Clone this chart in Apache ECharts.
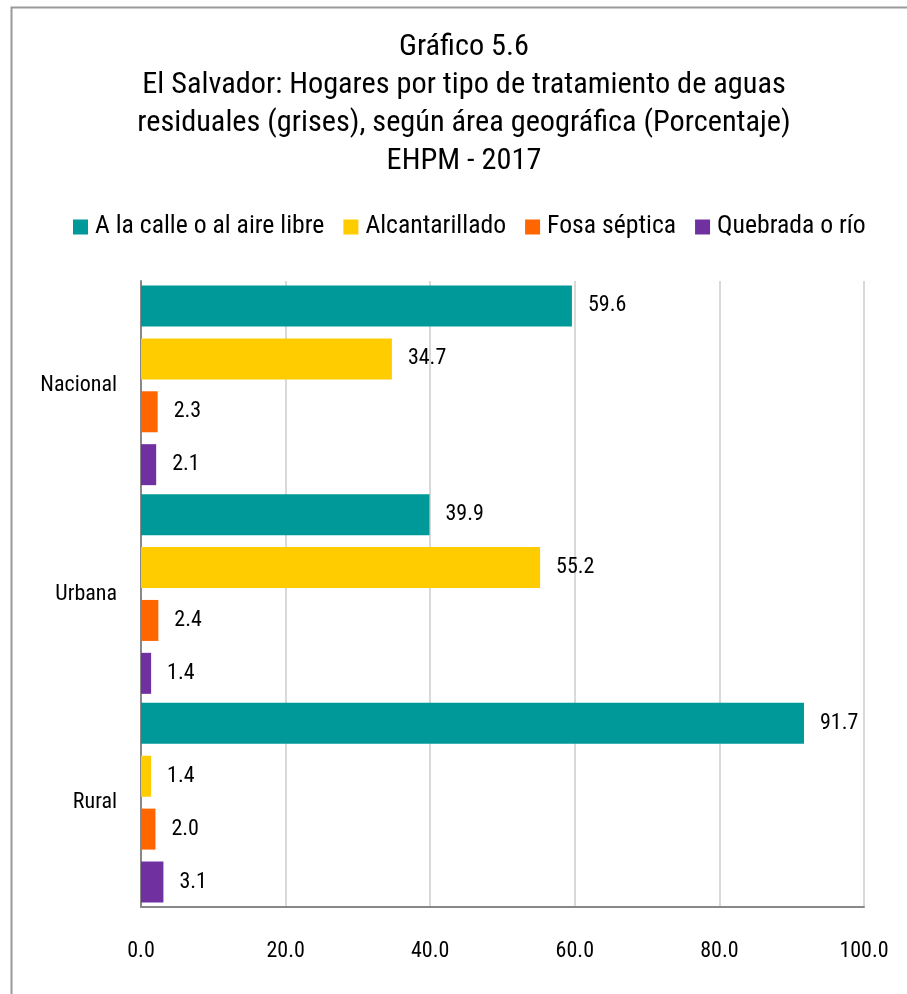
<!DOCTYPE html>
<html>
<head>
<meta charset="utf-8">
<script src="https://cdn.jsdelivr.net/npm/echarts@6/dist/echarts.min.js"></script>
<style>
  html, body { margin: 0; padding: 0; background: #ffffff; }
  #chart { width: 907px; height: 994px; }
</style>
</head>
<body>
<div id="chart"></div>
<script>
// Hogares por tipo de tratamiento de aguas residuales (grises), EHPM 2017
const categories = ['Nacional', 'Urbana', 'Rural'];
const seriesNames = ['A la calle o al aire libre', 'Alcantarillado', 'Fosa séptica', 'Quebrada o río'];
const calleAireLibre = [59.6, 39.9, 91.7];
const alcantarillado = [34.7, 55.2, 1.4];
const fosaSeptica = [2.3, 2.4, 2.0];
const quebradaRio = [2.1, 1.4, 3.1];
const xTicks = [0, 20, 40, 60, 80, 100];
const colors = ['#009999', '#FFCC00', '#FF6600', '#7030A0'];

const FONT = '"Roboto Condensed", "DejaVu Sans Condensed", sans-serif';
const values = [calleAireLibre, alcantarillado, fosaSeptica, quebradaRio];

const chart = echarts.init(document.getElementById('chart'), null, { renderer: 'canvas' });

chart.setOption({
  backgroundColor: '#ffffff',
  animation: false,
  color: colors,
  graphic: [{
    type: 'rect',
    left: 9, top: 5,
    shape: { width: 960, height: 1040 },
    style: { fill: 'none', stroke: '#9a9a9a', lineWidth: 2 },
    silent: true
  }],
  title: {
    text: 'Gráfico 5.6\nEl Salvador: Hogares por tipo de tratamiento de aguas\nresiduales (grises), según área geográfica (Porcentaje)\nEHPM - 2017',
    left: 464,
    top: 28,
    textAlign: 'center',
    padding: 0,
    textStyle: {
      fontFamily: FONT,
      fontSize: 30.3,
      fontWeight: 'normal',
      lineHeight: 38,
      color: '#000000'
    }
  },
  legend: {
    data: seriesNames,
    left: 73,
    top: 213,
    padding: 0,
    icon: 'rect',
    itemWidth: 15,
    itemHeight: 15,
    itemGap: 19,
    textStyle: {
      fontFamily: FONT,
      fontSize: 25.7,
      lineHeight: 28,
      color: '#000000',
      padding: [0, 0, 0, 2]
    }
  },
  grid: {
    left: 141,
    right: 43,
    top: 281,
    bottom: 87,
    containLabel: false
  },
  xAxis: {
    type: 'value',
    min: 0,
    max: 100,
    interval: 20,
    axisLine: { show: true, lineStyle: { color: '#888888', width: 2 } },
    axisTick: { show: false },
    splitLine: { show: true, lineStyle: { color: '#d9d9d9', width: 2 } },
    axisLabel: {
      margin: 33,
      fontFamily: FONT,
      fontSize: 22,
      color: '#000000',
      formatter: v => xTicks.includes(v) ? v.toFixed(1) : ''
    }
  },
  yAxis: {
    type: 'category',
    data: categories,
    inverse: true,
    axisLine: { show: true, lineStyle: { color: '#888888', width: 2 } },
    axisTick: { show: false },
    splitLine: { show: false },
    axisLabel: {
      margin: 24,
      fontFamily: FONT,
      fontSize: 22,
      color: '#000000'
    }
  },
  series: seriesNames.map((name, i) => ({
    name,
    type: 'bar',
    data: values[i],
    barWidth: 41,
    barGap: '29%',
    itemStyle: { color: colors[i] },
    label: {
      show: true,
      position: 'right',
      distance: 16,
      fontFamily: FONT,
      fontSize: 22,
      color: '#000000',
      formatter: p => p.value.toFixed(1)
    }
  }))
});
</script>
</body>
</html>
